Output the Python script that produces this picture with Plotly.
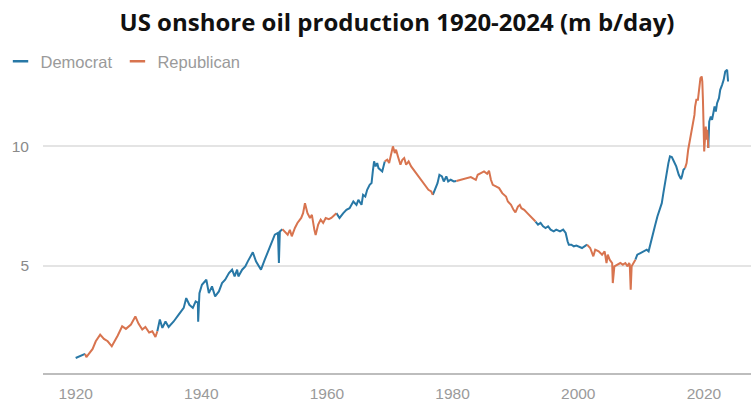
import plotly.graph_objects as go

# --- data ---
years = [
    1920.0, 1920.8, 1921.5, 1921.7, 1922.7, 1923.2, 1923.9, 1924.5, 1925.1, 1925.75,
    1926.7, 1927.4, 1928.0, 1928.8, 1929.5, 1930.0, 1930.6, 1931.1, 1931.7, 1932.2,
    1932.7, 1933.0, 1933.4, 1933.8, 1934.3, 1934.8, 1935.6, 1936.4, 1937.2, 1937.6,
    1938.1, 1938.65, 1939.1, 1939.45, 1939.5, 1939.7, 1940.1, 1940.8, 1941.2, 1941.7,
    1942.2, 1942.8, 1943.3, 1943.8, 1944.4, 1944.9, 1945.3, 1945.7, 1945.9, 1946.5,
    1947.0, 1947.4, 1947.9, 1948.2, 1948.7, 1949.1, 1949.5, 1950.1, 1950.6, 1950.95,
    1951.3, 1951.7, 1952.2, 1952.35, 1952.5, 1952.9, 1953.3, 1953.75, 1954.1, 1954.4,
    1954.9, 1955.3, 1955.9, 1956.2, 1956.5, 1956.9, 1957.3, 1957.6, 1958.0, 1958.2,
    1958.6, 1959.0, 1959.4, 1959.8, 1960.3, 1960.7, 1961.5, 1962.0, 1962.6, 1963.1,
    1963.6, 1964.2, 1964.7, 1965.0, 1965.5, 1965.75, 1966.1, 1966.4, 1966.8, 1967.1,
    1967.3, 1967.5, 1967.75, 1968.0, 1968.2, 1968.5, 1968.8, 1969.2, 1969.6, 1969.9,
    1970.2, 1970.5, 1970.8, 1971.0, 1971.3, 1971.7, 1972.0, 1972.3, 1972.6, 1973.0,
    1973.4, 1973.8, 1974.2, 1974.6, 1975.0, 1975.4, 1975.8, 1976.15, 1976.6, 1976.85,
    1977.1, 1977.4, 1977.6, 1977.9, 1978.3, 1978.6, 1979.0, 1979.3, 1979.7, 1980.2,
    1980.6, 1981.3, 1982.1, 1982.9, 1983.7, 1984.0, 1984.5, 1985.0, 1985.5, 1985.8,
    1986.1, 1986.4, 1986.9, 1987.4, 1987.9, 1988.5, 1988.8, 1989.3, 1989.7, 1990.0,
    1990.4, 1990.7, 1990.95, 1991.4, 1991.9, 1992.4, 1992.9, 1993.2, 1993.6, 1994.0,
    1994.4, 1994.8, 1995.2, 1995.6, 1996.1, 1996.5, 1997.1, 1997.6, 1998.0, 1998.3,
    1998.5, 1998.9, 1999.3, 1999.7, 2000.1, 2000.6, 2001.4, 2001.9, 2002.4, 2002.7,
    2003.25, 2003.8, 2004.2, 2004.5, 2004.7, 2005.0, 2005.4, 2005.5, 2005.75, 2006.2,
    2006.7, 2007.1, 2007.5, 2007.85, 2008.1, 2008.2, 2008.35, 2008.5, 2009.1, 2009.4,
    2009.9, 2010.4, 2010.9, 2011.2, 2011.55, 2011.9, 2012.2, 2012.6, 2013.0, 2013.3,
    2013.55, 2013.8, 2014.1, 2014.35, 2014.6, 2014.9, 2015.1, 2015.6, 2016.0, 2016.35,
    2016.5, 2016.75, 2017.0, 2017.25, 2017.5, 2017.65, 2017.9, 2018.2, 2018.5, 2018.6,
    2018.8, 2019.05, 2019.25, 2019.45, 2019.65, 2019.75, 2019.85, 2019.95, 2020.05, 2020.3,
    2020.45, 2020.55, 2020.7, 2020.85, 2021.1, 2021.3, 2021.5, 2021.7, 2021.9, 2022.1,
    2022.4, 2022.6, 2022.9, 2023.15, 2023.4, 2023.7, 2023.85,
]
production = [
    1.13, 1.23, 1.30, 1.17, 1.51, 1.83, 2.11, 1.93, 1.83, 1.62,
    2.07, 2.46, 2.35, 2.53, 2.87, 2.57, 2.32, 2.43, 2.20, 2.25,
    2.01, 2.25, 2.74, 2.39, 2.66, 2.43, 2.66, 2.95, 3.23, 3.64,
    3.36, 3.23, 3.50, 3.45, 2.65, 3.85, 4.20, 4.41, 3.85, 4.13,
    3.71, 3.92, 4.27, 4.41, 4.69, 4.83, 4.55, 4.83, 4.55, 4.83,
    4.97, 5.18, 5.42, 5.56, 5.18, 4.97, 4.83, 5.25, 5.60, 5.81,
    6.02, 6.30, 6.37, 5.11, 6.43, 6.53, 6.43, 6.30, 6.50, 6.23,
    6.58, 6.79, 7.00, 7.20, 7.62, 7.20, 7.00, 7.13, 6.50, 6.28,
    6.72, 6.93, 6.79, 7.00, 6.95, 7.00, 7.20, 7.00, 7.20, 7.34,
    7.41, 7.69, 7.55, 7.76, 7.55, 7.97, 7.90, 8.18, 8.39, 8.46,
    8.95, 9.37, 9.16, 9.30, 9.09, 9.02, 8.95, 9.37, 9.44, 9.30,
    9.72, 10.00, 9.72, 9.86, 9.58, 9.23, 9.44, 9.51, 9.23, 9.37,
    9.16, 9.02, 8.88, 8.74, 8.60, 8.46, 8.32, 8.18, 8.11, 7.97,
    8.11, 8.32, 8.46, 8.81, 8.74, 8.53, 8.74, 8.53, 8.60, 8.53,
    8.55, 8.60, 8.67, 8.71, 8.60, 8.81, 8.88, 8.95, 8.85, 8.98,
    8.60, 8.39, 8.32, 8.25, 8.04, 7.90, 7.69, 7.55, 7.34, 7.23,
    7.48, 7.55, 7.41, 7.34, 7.20, 7.06, 6.93, 6.85, 6.72, 6.79,
    6.65, 6.58, 6.65, 6.51, 6.44, 6.51, 6.44, 6.51, 6.37, 6.02,
    5.88, 5.88, 5.81, 5.84, 5.78, 5.74, 5.88, 5.74, 5.39, 5.67,
    5.60, 5.46, 5.60, 5.11, 5.46, 5.25, 5.11, 4.27, 4.97, 5.04,
    5.11, 5.04, 5.11, 4.97, 5.11, 5.05, 3.99, 4.97, 5.25, 5.46,
    5.53, 5.60, 5.67, 5.60, 5.95, 6.23, 6.65, 7.06, 7.41, 7.62,
    8.04, 8.46, 8.88, 9.30, 9.58, 9.55, 9.44, 9.16, 8.81, 8.63,
    8.74, 9.02, 9.09, 9.30, 9.86, 10.07, 10.35, 10.83, 11.32, 11.67,
    11.95, 11.95, 12.37, 12.86, 12.93, 12.72, 11.95, 10.83, 9.79, 10.83,
    10.28, 10.70, 9.93, 11.04, 11.25, 11.11, 11.39, 11.67, 11.46, 11.81,
    12.02, 12.37, 12.58, 12.79, 13.14, 13.21, 12.72,
]

# presidential terms (start year as placed on the chart) and party
term_starts = [1900.0, 1921.2, 1933.0, 1952.9, 1960.9, 1969.0, 1976.8,
               1980.6, 1993.0, 2001.0, 2008.9, 2016.9, 2020.6]
term_party = ["Democrat", "Republican", "Democrat", "Republican", "Democrat",
              "Republican", "Democrat", "Republican", "Democrat", "Republican",
              "Democrat", "Republican", "Democrat"]

colors = {"Democrat": "#2878a6", "Republican": "#d8744f"}


def party_of(yr):
    p = term_party[0]
    for s, party in zip(term_starts, term_party):
        if yr >= s:
            p = party
    return p


parties = [party_of(y) for y in years]

# build traces with gaps; connect at transitions
series = {"Democrat": ([], []), "Republican": ([], [])}
for i, (yr, v, p) in enumerate(zip(years, production, parties)):
    xs, ys = series[p]
    xs.append(yr)
    ys.append(v)
    if i + 1 < len(years) and parties[i + 1] != p:
        xs.append(years[i + 1])
        ys.append(production[i + 1])
        xs.append(None)
        ys.append(None)

fig = go.Figure()
for p in ["Democrat", "Republican"]:
    xs, ys = series[p]
    fig.add_trace(go.Scatter(x=xs, y=ys, mode="lines", name=p, showlegend=False,
                             line=dict(color=colors[p], width=2), connectgaps=False,
                             hoverinfo="skip"))
# legend-only entries with short dash symbols
for p in ["Democrat", "Republican"]:
    fig.add_trace(go.Scatter(x=[None], y=[None], mode="markers", name=p,
                             marker=dict(symbol="line-ew-open", size=11, color=colors[p],
                                         line=dict(color=colors[p], width=2.5))))

fig.update_layout(
    width=751, height=404,
    margin=dict(l=40, r=0, t=45, b=31),
    paper_bgcolor="white", plot_bgcolor="white",
    title=dict(text="<b>US onshore oil production 1920-2024 (m b/day)</b>",
               xref="paper", x=0.5, xanchor="center", y=0.945, yanchor="middle",
               font=dict(family="Open Sans", size=24, color="#111111")),
    legend=dict(orientation="h", x=-0.06, xanchor="left", y=0.95, yanchor="middle",
                font=dict(family="Liberation Sans, Arial", size=16.5, color="#9a9a9a"),
                itemwidth=30, bgcolor="rgba(0,0,0,0)", traceorder="normal"),
    showlegend=True,
)
fig.update_xaxes(range=[1914.8, 2027.5], tickvals=[1920, 1940, 1960, 1980, 2000, 2020],
                 showgrid=False, zeroline=False, showline=True, linecolor="#bdbdbd",
                 linewidth=2, ticks="", ticklabelstandoff=5,
                 tickfont=dict(family="Liberation Sans, Arial", size=15.5, color="#9a9a9a"))
fig.update_yaxes(range=[0.5, 14.25], tickvals=[5, 10], showgrid=True, gridcolor="#e4e4e4",
                 gridwidth=1.5, zeroline=False, showline=False, ticks="",
                 ticklabelstandoff=13,
                 tickfont=dict(family="Liberation Sans, Arial", size=15.5, color="#8a8a8a"))

fig.write_html("out.html")
